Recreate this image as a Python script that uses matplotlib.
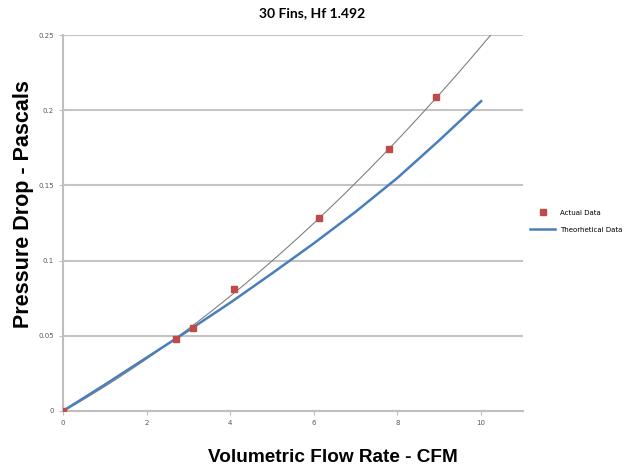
import numpy as np
import matplotlib
matplotlib.use('agg')
import matplotlib.pyplot as plt

# measured points
flow_actual = [0.0, 2.7, 3.1, 4.1, 6.13, 7.8, 8.93]
dp_actual = [0.0, 0.048, 0.055, 0.081, 0.128, 0.174, 0.2085]

# theoretical curve
flow_theory = [0, 1, 2, 3, 4, 5, 6, 7, 8, 9, 10]
dp_theory = [0.0, 0.0175, 0.0355, 0.0535, 0.072, 0.0915, 0.1115, 0.1325, 0.155, 0.18, 0.206]

xticks = [0, 2, 4, 6, 8, 10]
yticks = [0, 0.05, 0.1, 0.15, 0.2, 0.25]

fig = plt.figure(figsize=(6.24, 4.67), dpi=100)
ax = fig.add_axes([0.101, 0.12, 0.737, 0.805])

# polynomial trendline through the measured points (Excel style)
coef = np.polyfit(flow_actual, dp_actual, 2)
xt = np.linspace(0, 11, 200)
ax.plot(xt, np.polyval(coef, xt), color='#808080', lw=0.8, zorder=2)

ax.plot(flow_theory, dp_theory, color='#4a7ebb', lw=1.8, zorder=3,
        label='Theorhetical Data')
ax.plot(flow_actual, dp_actual, 's', color='#be4b48', ms=5, zorder=4,
        label='Actual Data')

ax.set_xlim(0, 11)
ax.set_ylim(0, 0.25)
ax.set_xticks(xticks)
ax.set_yticks(yticks)
ax.set_xticklabels([str(v) for v in xticks])
ax.set_yticklabels(['0', '0.05', '0.1', '0.15', '0.2', '0.25'])
ax.tick_params(labelsize=5, colors='#595959', length=3, width=0.8)
ax.tick_params(axis='both', color='#bfbfbf')
ax.yaxis.grid(True, color='#c4c4c4', lw=1.5)
ax.set_axisbelow(True)
for s in ['top', 'right']:
    ax.spines[s].set_visible(False)
for s in ['left', 'bottom']:
    ax.spines[s].set_color('#bfbfbf')
    ax.spines[s].set_linewidth(1.5)

fig.suptitle('30 Fins, Hf 1.492', fontsize=10, fontweight='bold',
             family='Lato', x=0.5, y=0.985)
ax.set_xlabel('Volumetric Flow Rate - CFM', fontsize=13.7, fontweight='bold',
              family='Liberation Sans')
ax.xaxis.set_label_coords(0.587, -0.1)
ax.set_ylabel('Pressure Drop - Pascals', fontsize=15.5, fontweight='bold',
              family='Liberation Sans')
ax.yaxis.set_label_coords(-0.063, 0.55)

h, l = ax.get_legend_handles_labels()
fig.legend(h[::-1], l[::-1], loc='center left', bbox_to_anchor=(0.84, 0.526),
           frameon=False, fontsize=5, handlelength=3.5, labelspacing=1.6)

fig.savefig('out.png', dpi=100)
